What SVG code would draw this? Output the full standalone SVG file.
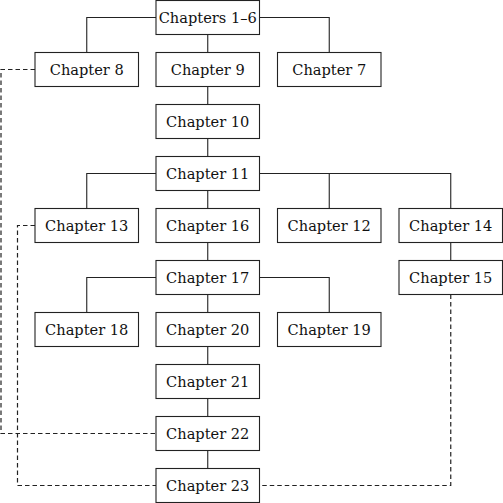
<svg xmlns="http://www.w3.org/2000/svg" width="503" height="503" viewBox="0 0 503 503">
  <style>
    .box rect { fill: #ffffff; stroke: #222; stroke-width: 1.1; }
    .box text { font-family: "DejaVu Serif", serif; font-size: 14.6px; fill: #111; text-anchor: middle; }
    .edge { fill: none; stroke: #222; stroke-width: 1.1; }
    .dep { fill: none; stroke: #222; stroke-width: 1.2; stroke-dasharray: 4.5 3; }
  </style>
  <rect width="503" height="503" fill="#ffffff"/>

  <g id="connectors">
    <!-- solid tree links -->
    <path class="edge" d="M86.75 52.5 V17.5 H329.25 V52.5 M207.75 34.5 V52.5"/>
    <path class="edge" d="M207.75 86.5 V104.5 M207.75 138.5 V156.5"/>
    <path class="edge" d="M86.75 208.5 V173.5 H450.75 V208.5 M329.25 173.5 V208.5 M207.75 190.5 V208.5"/>
    <path class="edge" d="M450.75 242.5 V260.5 M207.75 242.5 V260.5"/>
    <path class="edge" d="M86.75 312.5 V277.5 H329.25 V312.5 M207.75 294.5 V312.5"/>
    <path class="edge" d="M207.75 346.5 V364.5 M207.75 398.5 V416.5 M207.75 450.5 V468.5"/>
    <!-- dashed cross links -->
    <path class="dep" d="M35 69.5 H1 V433.5 H156"/>
    <path class="dep" d="M35 225.5 H17.5 V485.5 H156"/>
    <path class="dep" d="M450.75 294.5 V485.5 H259.5"/>
  </g>

  <g id="ch1-6" class="box"><rect x="156" y="0.5" width="103.5" height="34"/><text x="207.75" y="22.5">Chapters 1–6</text></g>
  <g id="ch8" class="box"><rect x="35" y="52.5" width="103.5" height="34"/><text x="86.75" y="74.5">Chapter 8</text></g>
  <g id="ch9" class="box"><rect x="156" y="52.5" width="103.5" height="34"/><text x="207.75" y="74.5">Chapter 9</text></g>
  <g id="ch7" class="box"><rect x="277.5" y="52.5" width="103.5" height="34"/><text x="329.25" y="74.5">Chapter 7</text></g>
  <g id="ch10" class="box"><rect x="156" y="104.5" width="103.5" height="34"/><text x="207.75" y="126.5">Chapter 10</text></g>
  <g id="ch11" class="box"><rect x="156" y="156.5" width="103.5" height="34"/><text x="207.75" y="178.5">Chapter 11</text></g>
  <g id="ch13" class="box"><rect x="35" y="208.5" width="103.5" height="34"/><text x="86.75" y="230.5">Chapter 13</text></g>
  <g id="ch16" class="box"><rect x="156" y="208.5" width="103.5" height="34"/><text x="207.75" y="230.5">Chapter 16</text></g>
  <g id="ch12" class="box"><rect x="277.5" y="208.5" width="103.5" height="34"/><text x="329.25" y="230.5">Chapter 12</text></g>
  <g id="ch14" class="box"><rect x="399" y="208.5" width="103.5" height="34"/><text x="450.75" y="230.5">Chapter 14</text></g>
  <g id="ch17" class="box"><rect x="156" y="260.5" width="103.5" height="34"/><text x="207.75" y="282.5">Chapter 17</text></g>
  <g id="ch15" class="box"><rect x="399" y="260.5" width="103.5" height="34"/><text x="450.75" y="282.5">Chapter 15</text></g>
  <g id="ch18" class="box"><rect x="35" y="312.5" width="103.5" height="34"/><text x="86.75" y="334.5">Chapter 18</text></g>
  <g id="ch20" class="box"><rect x="156" y="312.5" width="103.5" height="34"/><text x="207.75" y="334.5">Chapter 20</text></g>
  <g id="ch19" class="box"><rect x="277.5" y="312.5" width="103.5" height="34"/><text x="329.25" y="334.5">Chapter 19</text></g>
  <g id="ch21" class="box"><rect x="156" y="364.5" width="103.5" height="34"/><text x="207.75" y="386.5">Chapter 21</text></g>
  <g id="ch22" class="box"><rect x="156" y="416.5" width="103.5" height="34"/><text x="207.75" y="438.5">Chapter 22</text></g>
  <g id="ch23" class="box"><rect x="156" y="468.5" width="103.5" height="34"/><text x="207.75" y="490.5">Chapter 23</text></g>
</svg>
